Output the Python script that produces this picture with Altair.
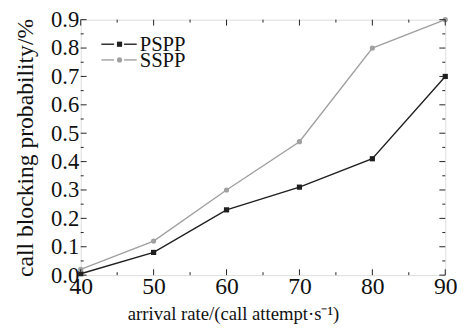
import altair as alt
import pandas as pd

arrival = [40, 50, 60, 70, 80, 90]
pspp = [0.005, 0.08, 0.23, 0.31, 0.41, 0.70]
sspp = [0.02, 0.12, 0.30, 0.47, 0.80, 0.90]
series_names = ["PSPP", "SSPP"]
x_major = [40, 50, 60, 70, 80, 90]
x_minor = [45, 55, 65, 75, 85]
y_major = [0.0, 0.1, 0.2, 0.3, 0.4, 0.5, 0.6, 0.7, 0.8, 0.9]
y_minor = [0.05, 0.15, 0.25, 0.35, 0.45, 0.55, 0.65, 0.75, 0.85]

W, H = 371, 260
FONT = "Liberation Serif"
C_P = "#1f1f1f"
C_S = "#a0a0a0"

df = pd.DataFrame({
    "x": arrival * 2,
    "y": pspp + sspp,
    "s": [series_names[0]] * len(arrival) + [series_names[1]] * len(arrival),
})

xs = alt.Scale(domain=[40, 90], nice=False)
ys = alt.Scale(domain=[0, 0.9], nice=False)

x_axis = alt.Axis(
    values=x_major, title="arrival rate/(call attempt·s⁻¹)", domain=False,
    ticks=False, labelFont=FONT, labelFontSize=24, labelColor="#111",
    labelPadding=0, labelOverlap=False, titleFont=FONT, titleFontSize=19,
    titleFontWeight="normal", titleColor="#111", titleX=155, titleY=45,
    titleBaseline="alphabetic", grid=False, labelFlush=False)
y_axis = alt.Axis(
    values=y_major, format=".1f", title="call blocking probability/%",
    domain=False, ticks=False, labelFont=FONT, labelFontSize=23,
    labelColor="#111", labelPadding=2, labelOverlap=False, titleFont=FONT,
    titleFontSize=24, titleFontWeight="normal", titleColor="#111",
    titleX=-44, titleY=130, titleBaseline="bottom", grid=False, labelFlush=False)

X = alt.X("x:Q", scale=xs, axis=x_axis)
Y = alt.Y("y:Q", scale=ys, axis=y_axis)

base = alt.Chart(df)
color = alt.Color("s:N", scale=alt.Scale(domain=series_names, range=[C_P, C_S]), legend=None)

lines = base.mark_line(strokeWidth=1.4).encode(x=X, y=Y, color=color)
pts_p = base.transform_filter(alt.datum.s == "PSPP").mark_point(
    shape="square", filled=True, size=28, color=C_P, opacity=1).encode(x=X, y=Y)
pts_s = base.transform_filter(alt.datum.s == "SSPP").mark_point(
    shape="circle", filled=True, size=28, color=C_S, opacity=1).encode(x=X, y=Y)

def xticks(vals, length):
    d = pd.DataFrame({"x": vals})
    b = alt.Chart(d).mark_rule(color="#222", strokeWidth=1)
    return (b.encode(x=X, y=alt.value(H), y2=alt.value(H - length)) +
            b.encode(x=X, y=alt.value(0), y2=alt.value(length)))

def yticks(vals, length):
    d = pd.DataFrame({"y": vals})
    b = alt.Chart(d).mark_rule(color="#222", strokeWidth=1)
    return (b.encode(y=Y, x=alt.value(0), x2=alt.value(length)) +
            b.encode(y=Y, x=alt.value(W), x2=alt.value(W - length)))

ticks = xticks(x_major, 6) + xticks(x_minor, 3) + yticks(y_major, 6) + yticks(y_minor, 3)

# legend
leg_items = []
for name, col, shp, yy in [("PSPP", C_P, "square", 25), ("SSPP", C_S, "circle", 41)]:
    one = pd.DataFrame({"label": [name]})
    lb = alt.Chart(one)
    leg_items.append(lb.mark_rule(color=col, strokeWidth=1.4).encode(
        x=alt.value(21), x2=alt.value(34), y=alt.value(yy)))
    leg_items.append(lb.mark_rule(color=col, strokeWidth=1.4).encode(
        x=alt.value(44), x2=alt.value(57), y=alt.value(yy)))
    leg_items.append(lb.mark_point(shape=shp, filled=True, size=28, color=col, opacity=1).encode(
        x=alt.value(39.5), y=alt.value(yy)))
    leg_items.append(lb.mark_text(align="left", baseline="middle", font=FONT, fontSize=21,
                                  color="#111").encode(
        x=alt.value(60), y=alt.value(yy + 1), text="label:N"))

chart = alt.layer(lines, pts_p, pts_s, ticks, *leg_items).properties(
    width=W, height=H,
    autosize=alt.AutoSizeParams(type="none"),
    padding={"left": 74, "top": 9, "right": 15, "bottom": 55},
).configure_view(stroke="#111", strokeWidth=1.5).configure(background="white")

chart.save("out.html", embed_options={"renderer": "svg", "actions": False})
